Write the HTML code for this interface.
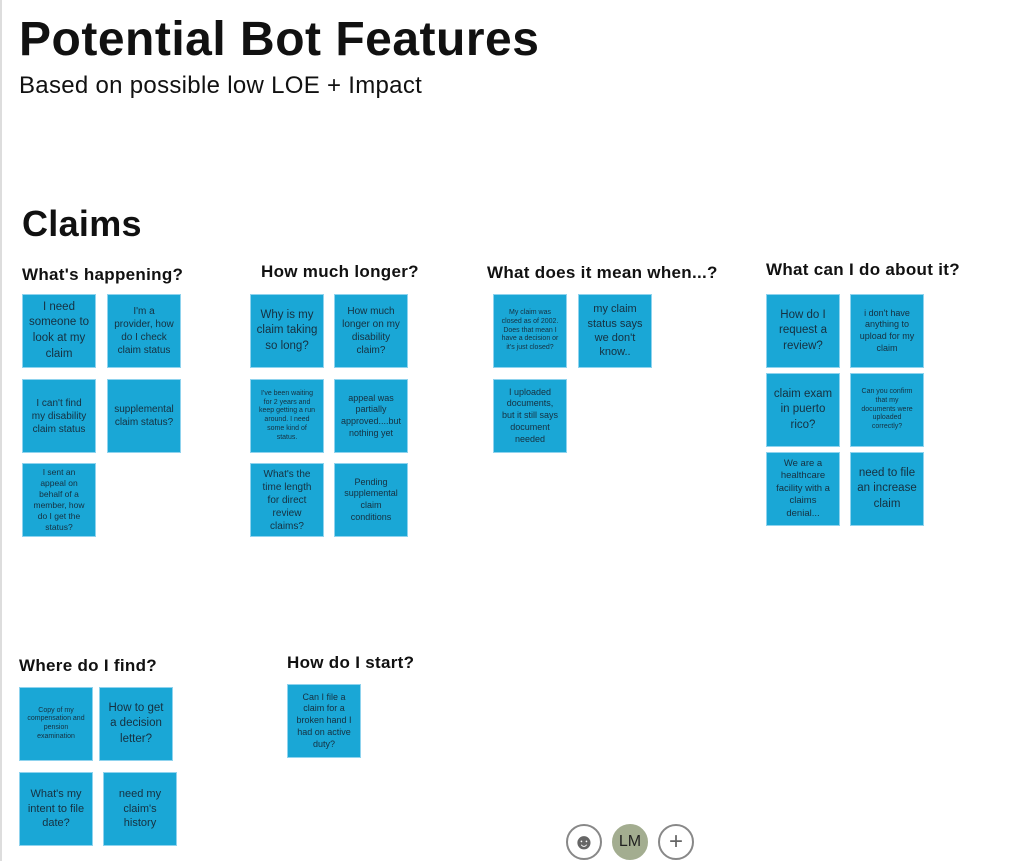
<!DOCTYPE html>
<html><head><style>
body{margin:0;width:1030px;height:861px;background:#fff;position:relative;overflow:hidden;font-family:"Liberation Sans",sans-serif;color:#111}
.l{position:absolute;left:0;top:0;width:2px;height:861px;background:#ddd}
.t{position:absolute;white-space:nowrap}
h{position:absolute;font-weight:bold;font-size:17px;white-space:nowrap;letter-spacing:0.3px}
.s{position:absolute;background:#1aa7d6;border:1px solid #8fd3ee;display:flex;align-items:center;justify-content:center;text-align:center;font-size:10px;line-height:1.3;color:#163040;padding:0 6px;box-sizing:border-box;width:74px;height:74px}
.b{font-size:11.5px;line-height:1.35;padding:0 4px}
.x{font-size:7px;line-height:1.25;padding:0 7px}
.c{position:absolute;width:36px;height:36px;border-radius:50%;border:2px solid #888;top:824px;box-sizing:border-box;display:flex;align-items:center;justify-content:center;font-size:24px;color:#666}
</style></head><body>
<div class="l"></div>
<div class="t" style="left:19px;top:12px;font-size:48px;font-weight:bold;letter-spacing:0.5px">Potential Bot Features</div>
<div class="t" style="left:19px;top:72px;font-size:24px;letter-spacing:0.3px">Based on possible low LOE + Impact</div>
<div class="t" style="left:22px;top:203px;font-size:36px;font-weight:bold;letter-spacing:0.3px">Claims</div>
<h style="left:22px;top:265px">What's happening?</h>
<h style="left:261px;top:262px">How much longer?</h>
<h style="left:487px;top:263px">What does it mean when...?</h>
<h style="left:766px;top:260px">What can I do about it?</h>
<h style="left:19px;top:656px">Where do I find?</h>
<h style="left:287px;top:653px">How do I start?</h>

<div class="s b" style="left:22px;top:294px">I need someone to look at my claim</div>
<div class="s" style="left:107px;top:294px">I'm a provider, how do I check claim status</div>
<div class="s" style="left:22px;top:379px">I can't find my disability claim status</div>
<div class="s" style="left:107px;top:379px">supplemental claim status?</div>
<div class="s" style="left:22px;top:463px;font-size:8.5px">I sent an appeal on behalf of a member, how do I get the status?</div>

<div class="s b" style="left:250px;top:294px">Why is my claim taking so long?</div>
<div class="s" style="left:334px;top:294px">How much longer on my disability claim?</div>
<div class="s x" style="left:250px;top:379px">I've been waiting for 2 years and keep getting a run around. I need some kind of status.</div>
<div class="s" style="left:334px;top:379px;font-size:9px">appeal was partially approved....but nothing yet</div>
<div class="s" style="left:250px;top:463px">What's the time length for direct review claims?</div>
<div class="s" style="left:334px;top:463px;font-size:9px">Pending supplemental claim conditions</div>

<div class="s x" style="left:493px;top:294px">My claim was closed as of 2002. Does that mean I have a decision or it's just closed?</div>
<div class="s" style="left:578px;top:294px;font-size:11px">my claim status says we don't know..</div>
<div class="s" style="left:493px;top:379px;font-size:9px">I uploaded documents, but it still says document needed</div>

<div class="s b" style="left:766px;top:294px">How do I request a review?</div>
<div class="s" style="left:850px;top:294px;font-size:9px">i don't have anything to upload for my claim</div>
<div class="s b" style="left:766px;top:373px">claim exam in puerto rico?</div>
<div class="s x" style="left:850px;top:373px">Can you confirm that my documents were uploaded correctly?</div>
<div class="s" style="left:766px;top:452px;font-size:9.5px">We are a healthcare facility with a claims denial...</div>
<div class="s b" style="left:850px;top:452px">need to file an increase claim</div>

<div class="s x" style="left:19px;top:687px">Copy of my compensation and pension examination</div>
<div class="s b" style="left:99px;top:687px">How to get a decision letter?</div>
<div class="s b" style="left:19px;top:772px;font-size:11px">What's my intent to file date?</div>
<div class="s b" style="left:103px;top:772px;font-size:11px">need my claim's history</div>
<div class="s" style="left:287px;top:684px;font-size:9px">Can I file a claim for a broken hand I had on active duty?</div>

<div class="c" style="left:566px;font-size:22px">☻</div>
<div class="c" style="left:612px;background:#a3ad90;border-color:#a3ad90;color:#222;font-size:16px">LM</div>
<div class="c" style="left:658px">+</div>
</body></html>
